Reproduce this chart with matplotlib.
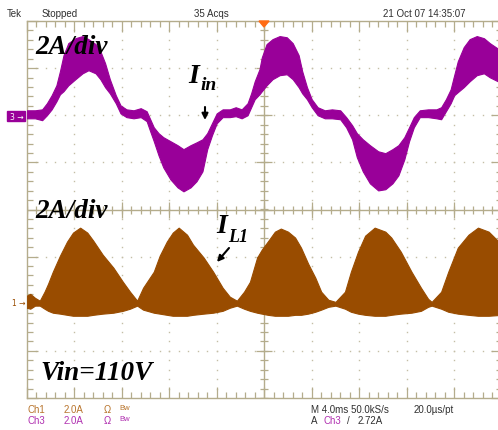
import numpy as np
import matplotlib.pyplot as plt
from matplotlib.ticker import MultipleLocator
from matplotlib.patches import Rectangle, Polygon

# Ch3 (input current), time in ms, current in A
t3 = [-20.0, -19.3, -18.7, -18.3, -17.9, -17.5, -17.2, -16.9, -16.5, -15.9, -15.3, -14.8,
      -14.2, -13.8, -13.4, -13.0, -12.5, -12.1, -11.6, -11.0, -10.4, -9.9, -9.6, -9.3,
      -8.9, -8.5, -7.9, -7.3, -6.8, -6.2, -5.7, -5.2, -4.8, -4.4, -4.0, -3.5, -2.9, -2.4,
      -1.9, -1.4, -1.1, -0.8, -0.4, -0.2, 0.2, 0.7, 1.3, 1.9, 2.4, 2.9, 3.2, 3.6, 4.0,
      4.5, 5.1, 5.7, 6.4, 6.9, 7.4, 7.8, 8.3, 8.9, 9.6, 10.2, 10.8, 11.3, 11.8, 12.2,
      12.6, 13.1, 13.8, 14.5, 14.9, 15.3, 15.7, 16.0, 16.3, 16.8, 17.3, 17.9, 18.5,
      19.0, 20.0]
i3_hi = [0.21, 0.21, 0.25, 0.51, 0.85, 1.27, 1.87, 2.55, 3.06, 3.27, 3.36, 3.23,
         3.02, 2.72, 2.21, 1.53, 0.85, 0.42, 0.25, 0.21, 0.30, 0.17, -0.17, -0.51,
         -0.76, -0.93, -1.10, -1.27, -1.44, -1.27, -1.15, -1.02, -0.76, -0.34, 0.08, 0.25,
         0.25, 0.34, 0.25, 0.51, 0.93, 1.44, 1.95, 2.46, 3.02, 3.23, 3.36, 3.31, 3.06,
         2.55, 1.87, 1.19, 0.68, 0.34, 0.21, 0.25, 0.21, -0.08, -0.42, -0.76, -1.02,
         -1.27, -1.53, -1.61, -1.44, -1.27, -0.93, -0.51, -0.08, 0.21, 0.25, 0.25, 0.34,
         0.68, 1.10, 1.70, 2.29, 2.89, 3.23, 3.36, 3.27, 3.06, 2.72]
i3_lo = [-0.13, -0.13, -0.21, 0.00, 0.25, 0.59, 0.89, 1.02, 1.27, 1.53, 1.78, 1.91,
         1.78, 1.53, 1.19, 0.93, 0.51, 0.08, -0.08, -0.13, -0.08, -0.25, -0.68, -1.10,
         -1.70, -2.21, -2.72, -3.06, -3.23, -3.06, -2.80, -2.38, -1.44, -0.85, -0.34, -0.08,
         -0.08, -0.04, -0.13, 0.00, 0.34, 0.68, 0.89, 1.02, 1.27, 1.53, 1.70, 1.74, 1.53,
         1.19, 0.93, 0.68, 0.34, 0.00, -0.13, -0.13, -0.17, -0.51, -1.02, -1.78, -2.38,
         -2.89, -3.19, -3.14, -2.89, -2.55, -1.87, -1.10, -0.51, -0.08, -0.08, -0.13, -0.17,
         0.17, 0.51, 0.85, 0.98, 1.19, 1.44, 1.70, 1.78, 1.61, 1.36]

# Ch1 (inductor current)
t1 = [-20.0, -19.7, -19.3, -18.9, -18.5, -18.2, -17.8, -17.2, -16.6, -16.1, -15.5, -14.9,
      -14.4, -13.6, -12.7, -11.9, -11.3, -10.7, -10.2, -9.3, -8.8, -8.2, -7.7, -7.2,
      -6.5, -6.0, -5.1, -4.3, -3.5, -2.9, -2.3, -1.7, -1.2, -0.6, -0.2, 0.3, 0.9, 1.4,
      2.0, 2.6, 3.1, 3.7, 4.3, 4.8, 5.4, 6.0, 6.8, 7.3, 7.9, 8.5, 9.3, 10.2, 10.7,
      11.5, 12.4, 13.2, 13.8, 14.1, 14.9, 15.5, 16.3, 17.2, 18.0, 18.9, 20.0]
i1_hi = [0.34, 0.42, 0.25, 0.13, 0.51, 0.85, 1.36, 2.04, 2.64, 3.02, 3.23, 3.02,
         2.68, 2.08, 1.53, 0.93, 0.51, 0.13, 0.68, 1.36, 2.04, 2.64, 3.02, 3.23,
         2.93, 2.51, 1.96, 1.36, 0.68, 0.30, 0.13, 0.51, 0.93, 1.96, 2.30, 2.64, 3.06, 3.19,
         3.06, 2.81, 2.38, 1.70, 1.11, 0.51, 0.17, 0.08, 0.51, 1.36, 2.21, 2.89, 3.23, 3.06,
         2.81, 2.21, 1.36, 0.68, 0.21, 0.08, 0.51, 1.36, 2.38, 2.93, 3.23, 3.06, 2.51]
i1_lo = [-0.17, -0.21, -0.08, -0.08, -0.21, -0.30, -0.38, -0.42, -0.47, -0.51, -0.51, -0.51,
         -0.47, -0.42, -0.38, -0.30, -0.21, -0.08, -0.25, -0.38, -0.42, -0.47, -0.51, -0.51,
         -0.51, -0.47, -0.42, -0.38, -0.30, -0.17, -0.08, -0.21, -0.30, -0.38, -0.42, -0.47,
         -0.51, -0.51, -0.51, -0.47, -0.47, -0.42, -0.34, -0.25, -0.13, -0.08, -0.21, -0.34,
         -0.42, -0.47, -0.51, -0.51, -0.47, -0.42, -0.38, -0.30, -0.13, -0.08, -0.21, -0.34,
         -0.42, -0.47, -0.51, -0.51, -0.47]

volts_div = 2.0      # A/div for both channels
ch3_pos, ch1_pos = 2, -2

W, H = 498, 431
purple = '#990099'
brown = '#994c00'
grat = '#b4ac8c'
dotc = '#c4bea6'

fig = plt.figure(figsize=(W / 100, H / 100), dpi=100)
ax = fig.add_axes([26.7 / W, 1 - 399 / H, 475 / W, 377 / H])
ax.set_xlim(-20, 20)
ax.set_ylim(-4, 4)

# graticule
ax.xaxis.set_major_locator(MultipleLocator(4))
ax.xaxis.set_minor_locator(MultipleLocator(0.8))
ax.yaxis.set_major_locator(MultipleLocator(1))
ax.yaxis.set_minor_locator(MultipleLocator(0.2))
ax.tick_params(which='both', direction='in', top=True, right=True, bottom=True, left=True,
               labelbottom=False, labelleft=False, color=grat, width=0.9)
ax.tick_params(which='major', length=8)
ax.tick_params(which='minor', length=4)
for s in ax.spines.values():
    s.set_color(grat)
    s.set_linewidth(1.0)

ys = np.arange(-4, 4.001, 0.2)
xs = np.arange(-20, 20.001, 0.8)
for xv in [-16, -12, -8, -4, 4, 8, 12, 16]:
    ax.plot([xv] * len(ys), ys, ls='none', marker='s', ms=1.0, color=dotc, mew=0, zorder=1)
for yv in [-3, -2, -1, 1, 2, 3]:
    ax.plot(xs, [yv] * len(xs), ls='none', marker='s', ms=1.0, color=dotc, mew=0, zorder=1)
ax.axhline(0, color=grat, lw=1.0, zorder=1)
ax.axvline(0, color=grat, lw=1.0, zorder=1)
ax.plot(xs, [0] * len(xs), ls='none', marker='|', ms=6, color=grat, mew=0.9, zorder=1)
ax.plot(np.arange(-20, 21, 4), [0] * 11, ls='none', marker='|', ms=11, color=grat, mew=0.9, zorder=1)
ax.plot([0] * len(ys), ys, ls='none', marker='_', ms=6, color=grat, mew=0.9, zorder=1)
ax.plot([0] * 9, np.arange(-4, 5, 1), ls='none', marker='_', ms=11, color=grat, mew=0.9, zorder=1)

# traces
ax.fill_between(t3, np.array(i3_hi) / volts_div + ch3_pos, np.array(i3_lo) / volts_div + ch3_pos,
                facecolor=purple, edgecolor=purple, lw=0.8, zorder=3)
ax.fill_between(t1, np.array(i1_hi) / volts_div + ch1_pos, np.array(i1_lo) / volts_div + ch1_pos,
                facecolor=brown, edgecolor=brown, lw=0.8, zorder=3)


def fx(x):
    return x / W


def fy(y):
    return 1 - y / H


# trigger marker
fig.patches.append(Polygon([(fx(259), fy(22)), (fx(269), fy(22)), (fx(264), fy(28))],
                           closed=True, transform=fig.transFigure, color='#ff6a13', zorder=10))

# channel markers
fig.patches.append(Rectangle((fx(7), fy(122)), 18 / W, 10 / H, transform=fig.transFigure,
                             color=purple, zorder=10))
fig.text(fx(10), fy(117), '3 →', color='white', fontsize=5.5, va='center', ha='left', zorder=11)
fig.text(fx(12), fy(304), '1 →', color=brown, fontsize=5.5, va='center', ha='left', zorder=11)

# header / footer
hdr = dict(fontsize=7, family='Liberation Sans', color='#303030', va='center', ha='left')
fig.text(fx(7), fy(14), 'Tek', **hdr)
fig.text(fx(42), fy(14), 'Stopped', **hdr)
fig.text(fx(194), fy(14), '35 Acqs', **hdr)
fig.text(fx(383), fy(14), '21 Oct 07 14:35:07', **hdr)

c1 = '#b8742c'
c3 = '#b030b0'
for yrow, name, col in [(410, 'Ch1', c1), (421, 'Ch3', c3)]:
    fig.text(fx(27), fy(yrow), name, **{**hdr, 'color': col})
    fig.text(fx(64), fy(yrow), '2.0A', **{**hdr, 'color': col})
    fig.text(fx(104), fy(yrow), 'Ω', **{**hdr, 'color': col})
    fig.text(fx(119), fy(yrow - 1), 'Bw', **{**hdr, 'color': col, 'fontsize': 5.5})
fig.text(fx(311), fy(410), 'M 4.0ms 50.0kS/s', **hdr)
fig.text(fx(414), fy(410), '20.0µs/pt', **hdr)
fig.text(fx(311), fy(421), 'A', **hdr)
fig.text(fx(323), fy(421), 'Ch3', **{**hdr, 'color': c3})
fig.text(fx(347), fy(421), '/', **hdr)
fig.text(fx(358), fy(421), '2.72A', **hdr)

# annotations
big = dict(family='Liberation Serif', style='italic', weight='bold', color='black',
           va='baseline', ha='left', zorder=12)
fig.text(fx(35), fy(54), '2A/div', fontsize=19.5, **big)
fig.text(fx(35), fy(218), '2A/div', fontsize=19.5, **big)
fig.text(fx(40), fy(380), 'Vin=110V', fontsize=19.5, **big)
fig.text(fx(188), fy(83), 'I', fontsize=20, **big)
fig.text(fx(200), fy(90), 'in', fontsize=14, **big)
fig.text(fx(216), fy(233), 'I', fontsize=20, **big)
fig.text(fx(228), fy(242), 'L1', fontsize=13, **big)

arr = dict(arrowstyle='-|>', color='black', lw=1.5, mutation_scale=9, shrinkA=0, shrinkB=0)
ax.annotate('', xy=(205, H - 121), xycoords='figure pixels', xytext=(205, H - 108),
            textcoords='figure pixels', arrowprops=arr)
ax.annotate('', xy=(217, H - 263), xycoords='figure pixels', xytext=(229, H - 249),
            textcoords='figure pixels', arrowprops=arr)

fig.savefig('out.png', dpi=100)
